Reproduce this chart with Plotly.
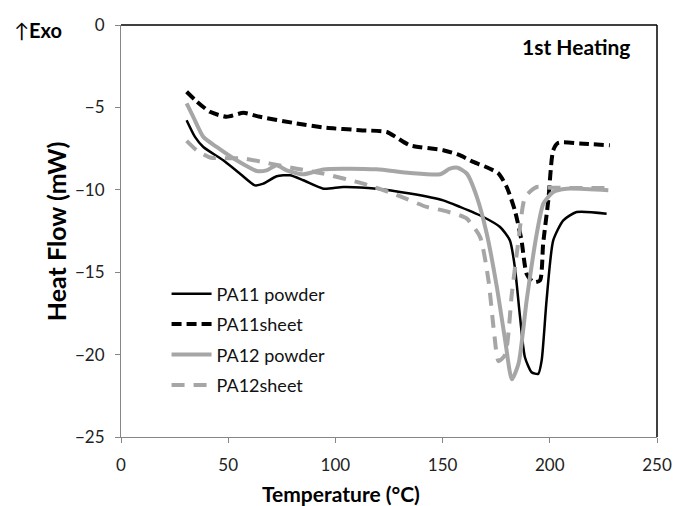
import plotly.graph_objects as go

# ---- data ----
t_pa11_powder = [30.6, 34.5, 38.4, 47.7, 55.5, 62.5, 66.4, 72.6, 78.8, 85, 94.4, 103.7, 119.2, 134.8,
                 150.3, 158.1, 169, 176.8, 181.4, 183.7, 186.1, 188.4, 191.5, 194.6, 196.2, 198.5,
                 201.6, 206.3, 212.5, 226.5]
q_pa11_powder = [-5.78, -6.79, -7.4, -8.21, -9.02, -9.73, -9.63, -9.18, -9.12, -9.42, -9.93, -9.83,
                 -9.93, -10.23, -10.64, -11.04, -11.65, -12.26, -13.07, -14.7, -17.7, -20.16, -21.07,
                 -21.17, -20.36, -16.7, -13.07, -11.85, -11.35, -11.45]

t_pa11_sheet = [30.6, 35, 41.5, 49.3, 57.1, 64.8, 80.4, 95.9, 111.5, 124, 128.6, 134.8, 150.3, 158,
                164.3, 170, 176, 179.9, 183.7, 186.8, 189.2, 192.3, 195.4, 196.9, 199.3, 201.6, 204,
                214, 228]
q_pa11_sheet = [-4.05, -4.6, -5.27, -5.57, -5.33, -5.57, -5.94, -6.24, -6.38, -6.49, -6.83, -7.30,
                -7.60, -7.9, -8.31, -8.6, -9.0, -9.83, -11.25, -13.07, -15.1, -15.6, -15.5, -13.27,
                -10.64, -7.6, -7.15, -7.19, -7.3]

t_pa12_powder = [30.6, 33.7, 38.4, 44.6, 53.9, 63.3, 67.9, 72.6, 77.3, 85, 94.4, 103.7, 119.2, 134.8,
                 148.8, 153.4, 157, 161.3, 166, 170.6, 175.3, 179.2, 182.3, 185.4, 189.2, 193.9, 197,
                 201.6, 207.9, 227.3]
q_pa12_powder = [-4.76, -5.57, -6.79, -7.4, -8.21, -8.86, -8.82, -8.51, -8.82, -9.06, -8.76, -8.72,
                 -8.76, -8.98, -9.06, -8.72, -8.66, -9.02, -10.44, -12.67, -15.9, -19.15, -21.5,
                 -20.56, -16.72, -12.67, -10.84, -10.13, -9.93, -10.03]

t_pa12_sheet = [30.6, 35.3, 41.5, 57.1, 69.6, 82, 94.4, 113, 127, 142.6, 150, 158, 161.3, 167.5,
                171.4, 173.8, 176.1, 179.2, 182.3, 185.4, 188.5, 193.9, 200.1, 228]
q_pa12_sheet = [-7.03, -7.6, -8.04, -8.1, -8.41, -8.72, -9.02, -9.63, -10.23, -11.04, -11.25, -11.55,
                -11.75, -12.87, -15.5, -18.4, -20.4, -20.0, -16.3, -13.07, -10.44, -9.83, -9.87, -9.9]

x_ticks = [0, 50, 100, 150, 200, 250]
y_ticks = [0, -5, -10, -15, -20, -25]

FONT = "Lato, 'Open Sans', sans-serif"
GRAY = "#a6a6a6"

fig = go.Figure()
series = [
    ("PA11 powder", t_pa11_powder, q_pa11_powder, dict(color="black", width=2.5, dash="solid")),
    ("PA11sheet", t_pa11_sheet, q_pa11_sheet, dict(color="black", width=4, dash="10px,5px")),
    ("PA12 powder", t_pa12_powder, q_pa12_powder, dict(color=GRAY, width=4, dash="solid")),
    ("PA12sheet", t_pa12_sheet, q_pa12_sheet, dict(color=GRAY, width=4, dash="13px,9px")),
]
for i, (name, t, q, ln) in enumerate(series):
    fig.add_trace(go.Scatter(x=t, y=q, mode="lines", name=name,
                             line=dict(shape="spline", smoothing=0.6, **ln),
                             legendgroup=f"g{i}"))

fig.update_layout(
    width=673, height=506,
    margin=dict(l=121, r=16, t=25, b=69, autoexpand=False),
    paper_bgcolor="white", plot_bgcolor="white",
    font=dict(family=FONT, size=16, color="#222"),
    showlegend=True,
    legend=dict(x=0.085, y=0.392, xanchor="left", yanchor="top", bgcolor="rgba(0,0,0,0)",
                font=dict(size=18, color="#111"), tracegroupgap=4, traceorder="grouped",
                itemwidth=40),
    xaxis=dict(range=[0, 250], tickvals=x_ticks, showgrid=False, zeroline=False, automargin=False,
               showline=True, linecolor="#868686", linewidth=1, ticks="outside", ticklen=5,
               tickcolor="#868686", tickfont=dict(size=17), ticklabelstandoff=8),
    yaxis=dict(range=[-25, 0], tickvals=y_ticks, showgrid=False, zeroline=False, automargin=False,
               showline=True, linecolor="#868686", linewidth=1, ticks="outside", ticklen=5,
               tickcolor="#868686", tickfont=dict(size=17), ticklabelstandoff=7),
    shapes=[
        dict(type="line", xref="paper", yref="paper", x0=0, x1=1, y0=1, y1=1,
             line=dict(color="black", width=1.5)),
        dict(type="line", xref="paper", yref="paper", x0=1, x1=1, y0=0, y1=1,
             line=dict(color="black", width=1.5)),
    ],
    annotations=[
        dict(text="<b>Temperature (°C)</b>", xref="paper", yref="paper", x=0.41, y=-0.136,
             xanchor="center", yanchor="middle", showarrow=False, font=dict(size=21, color="black")),
        dict(text="<b>Heat Flow (mW)</b>", xref="paper", yref="paper", x=-0.121, y=0.5,
             xanchor="center", yanchor="middle", textangle=-90, showarrow=False,
             font=dict(size=25, color="black")),
        dict(text="↑<b>Exo</b>", xref="paper", yref="paper", x=-0.203, y=0.988,
             xanchor="left", yanchor="middle", showarrow=False, font=dict(size=20, color="black")),
        dict(text="<b>1st Heating</b>", xref="paper", yref="paper", x=0.953, y=0.949,
             xanchor="right", yanchor="middle", showarrow=False, font=dict(size=21, color="black")),
    ],
)

fig.write_html("out.html")
